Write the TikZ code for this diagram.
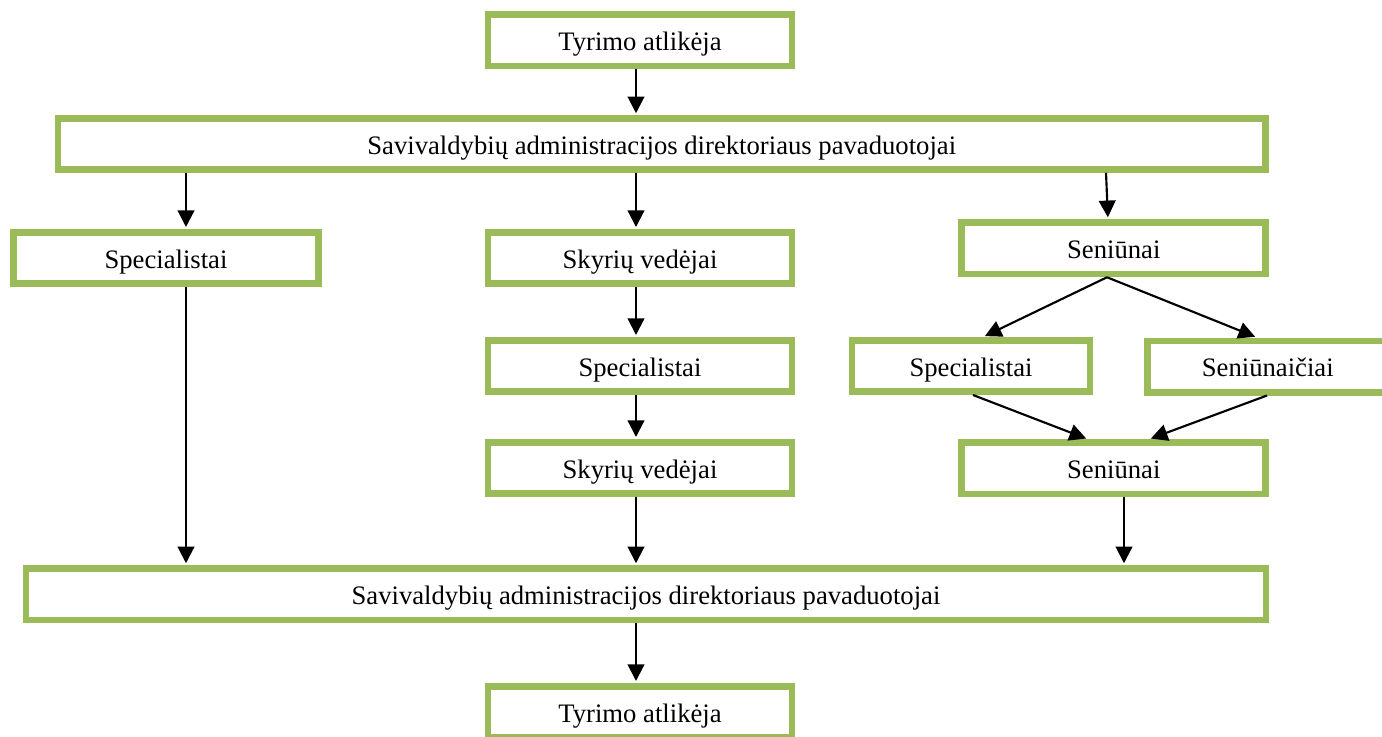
\documentclass[tikz,border=0pt]{standalone}
\usepackage{fontspec}
\setmainfont{Liberation Serif}
\usetikzlibrary{arrows.meta,calc}
\definecolor{boxgreen}{HTML}{9BBB59}
\begin{document}
\begin{tikzpicture}[x=0.75pt,y=-0.75pt,
  box/.style={draw=boxgreen,line width=4.9pt,fill=white,inner sep=0pt,
    minimum height=38.6pt,minimum width=228pt,
    font=\fontsize{20}{24}\selectfont,text height=15.5pt,text depth=0pt},
  conn/.style={line width=1.6pt,-{Triangle[length=12.5pt,width=12.5pt]},shorten >=1.5pt}]
\useasboundingbox (0,0) rectangle (1382,736);
\clip (0,0) rectangle (1382,736);
\node[box] (t1) at (640,40.25) {Tyrimo atlikėja};
\node[box,minimum width=905.6pt,minimum height=38.25pt] (w1) at (661.75,144) {Savivaldybių administracijos direktoriaus pavaduotojai};
\node[box,minimum width=228.75pt] (sp1) at (166,258) {Specialistai};
\node[box] (sk1) at (640,258) {Skyrių vedėjai};
\node[box] (se1) at (1113.75,248.25) {Seniūnai};
\node[box] (sp2) at (640,366) {Specialistai};
\node[box,minimum width=178.5pt] (sp3) at (971,366) {Specialistai};
\node[box,minimum width=180pt] (sn) at (1267.75,366.5) {Seniūnaičiai};
\node[box] (sk2) at (640,468) {Skyrių vedėjai};
\node[box] (se2) at (1113.75,468.25) {Seniūnai};
\node[box,minimum width=930pt] (w2) at (646,594.25) {Savivaldybių administracijos direktoriaus pavaduotojai};
\node[box] (t2) at (640,712) {Tyrimo atlikėja};
% connectors
\draw[conn] (t1.south -| 636,0) -- (w1.north -| 636,0);
\draw[conn] (w1.south -| 186,0) -- (sp1.north -| 186,0);
\draw[conn] (w1.south -| 636,0) -- (sk1.north -| 636,0);
\draw[conn] (w1.south -| 1106,0) -- (se1.north -| 1108,0);
\draw[conn] (se1.south -| 1107,0) -- (sp3.north -| 983,0);
\draw[conn] (se1.south -| 1107,0) -- (sn.north -| 1257,0);
\draw[conn] (sk1.south -| 636,0) -- (sp2.north -| 636,0);
\draw[conn] (sp2.south -| 636,0) -- (sk2.north -| 636,0);
\draw[conn] (sp3.south -| 973,0) -- (se2.north -| 1088,0);
\draw[conn] (sn.south -| 1267,0) -- (se2.north -| 1149,0);
\draw[conn] (sp1.south -| 186,0) -- (w2.north -| 186,0);
\draw[conn] (sk2.south -| 636,0) -- (w2.north -| 636,0);
\draw[conn] (se2.south -| 1124,0) -- (w2.north -| 1124,0);
\draw[conn] (w2.south -| 636,0) -- (t2.north -| 636,0);
\end{tikzpicture}
\end{document}
